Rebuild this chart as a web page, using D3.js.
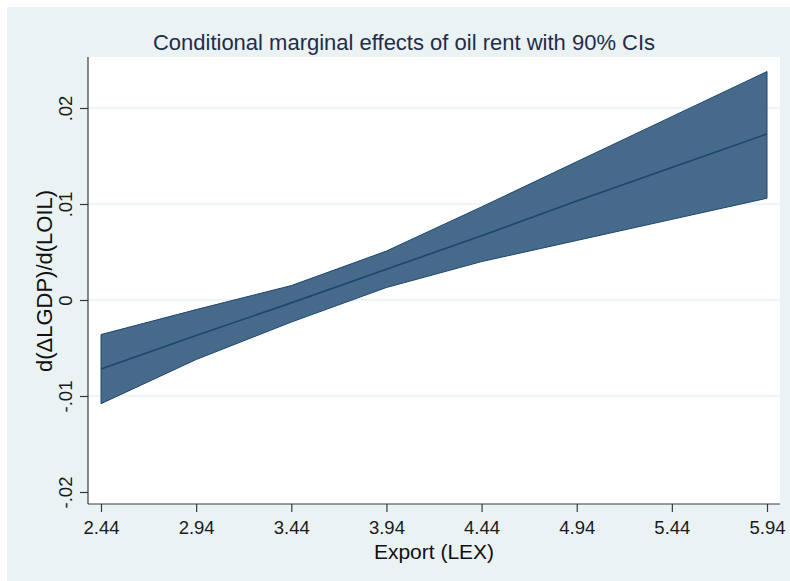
<!DOCTYPE html>
<html>
<head>
<meta charset="utf-8">
<script src="https://cdn.jsdelivr.net/npm/d3@7"></script>
<style>
  html, body { margin: 0; padding: 0; background: #ffffff; }
  svg { display: block; font-family: Arial, "Liberation Sans", sans-serif; }
</style>
</head>
<body>
<svg id="chart" width="790" height="581"></svg>
<script>
// ---- data ----
const exportLevels = [2.44, 2.94, 3.44, 3.94, 4.44, 4.94, 5.44, 5.94];
const marginalEffect = [-0.0072, -0.0037, -0.0003, 0.0032, 0.0067, 0.0103, 0.0138, 0.0173];
const upperCI = [-0.0036, -0.0010, 0.0015, 0.0051, 0.0097, 0.0144, 0.0191, 0.0238];
const lowerCI = [-0.0108, -0.0062, -0.0023, 0.0013, 0.0040, 0.0062, 0.0084, 0.0106];
const xTicks = [2.44, 2.94, 3.44, 3.94, 4.44, 4.94, 5.44, 5.94];
const xTickLabels = ["2.44", "2.94", "3.44", "3.94", "4.44", "4.94", "5.44", "5.94"];
const yTicks = [0.02, 0.01, 0, -0.01, -0.02];
const yTickLabels = [".02", ".01", "0", "-.01", "-.02"];
const titleText = "Conditional marginal effects of oil rent with 90% CIs";
const xTitle = "Export (LEX)";
const yTitle = "d(\u0394LGDP)/d(LOIL)";

// ---- layout ----
const svg = d3.select("#chart");
const plot = { left: 88, right: 780, top: 57, bottom: 504 };

svg.append("rect").attr("x", 7).attr("y", 7).attr("width", 783).attr("height", 574)
  .attr("fill", "#eaf2f3");
svg.append("rect").attr("x", plot.left).attr("y", plot.top)
  .attr("width", plot.right - plot.left).attr("height", plot.bottom - plot.top)
  .attr("fill", "#ffffff");

const x = d3.scaleLinear().domain([2.44, 5.94]).range([101, 767]);
const y = d3.scaleLinear().domain([-0.02, 0.02]).range([492, 108]);

// gridlines
svg.append("g").selectAll("line").data(yTicks.filter(d => d > -0.02)).join("line")
  .attr("x1", plot.left).attr("x2", plot.right)
  .attr("y1", d => y(d)).attr("y2", d => y(d))
  .attr("stroke", "#eaf2f3").attr("stroke-width", 1.5);

// band
const rows = exportLevels.map((v, i) => ({ x: v, m: marginalEffect[i], hi: upperCI[i], lo: lowerCI[i] }));
const area = d3.area().x(d => x(d.x)).y0(d => y(d.lo)).y1(d => y(d.hi));
svg.append("path").datum(rows).attr("d", area)
  .attr("fill", "#476a8b").attr("stroke", "#1a476f").attr("stroke-width", 1).attr("stroke-linejoin", "round");
const line = d3.line().x(d => x(d.x)).y(d => y(d.m));
svg.append("path").datum(rows).attr("d", line)
  .attr("fill", "none").attr("stroke", "#1a476f").attr("stroke-width", 1.6);

// x axis
const xAxis = d3.axisBottom(x).tickValues(xTicks).tickFormat((d, i) => xTickLabels[i])
  .tickSizeOuter(0).tickSizeInner(8).tickPadding(9);
const gx = svg.append("g").attr("transform", `translate(0,${plot.bottom})`).call(xAxis);
gx.select(".domain").remove();
gx.append("line").attr("x1", plot.left).attr("x2", plot.right).attr("y1", 0).attr("y2", 0)
  .attr("stroke", "#3a3a3a").attr("stroke-width", 1.2);
gx.selectAll(".tick line").attr("stroke", "#3a3a3a").attr("stroke-width", 1.2);
gx.selectAll(".tick text").attr("font-size", 18.5).attr("fill", "#1a1a1a")
  .attr("font-family", "Arial, 'Liberation Sans', sans-serif");

// y axis
const yAxis = d3.axisLeft(y).tickValues(yTicks).tickFormat((d, i) => yTickLabels[i])
  .tickSizeOuter(0).tickSizeInner(8).tickPadding(8);
const gy = svg.append("g").attr("transform", `translate(${plot.left},0)`).call(yAxis);
gy.select(".domain").remove();
gy.append("line").attr("x1", 0).attr("x2", 0).attr("y1", plot.top).attr("y2", plot.bottom)
  .attr("stroke", "#3a3a3a").attr("stroke-width", 1.2);
gy.selectAll(".tick line").attr("stroke", "#3a3a3a").attr("stroke-width", 1.2);
gy.selectAll(".tick text")
  .attr("font-size", 18.5).attr("fill", "#1a1a1a")
  .attr("font-family", "Arial, 'Liberation Sans', sans-serif")
  .attr("x", null).attr("dy", null)
  .attr("text-anchor", "middle")
  .attr("transform", "translate(-16,0) rotate(-90)");

// titles
svg.append("text").attr("x", 404).attr("y", 50).attr("text-anchor", "middle")
  .attr("font-size", 22).attr("fill", "#1e2d4a").text(titleText);
svg.append("text").attr("x", 434).attr("y", 559).attr("text-anchor", "middle")
  .attr("font-size", 21).attr("fill", "#111").text(xTitle);
svg.append("text").attr("transform", "translate(52,281) rotate(-90)").attr("text-anchor", "middle")
  .attr("font-size", 22).attr("fill", "#111").text(yTitle);
</script>
</body>
</html>
